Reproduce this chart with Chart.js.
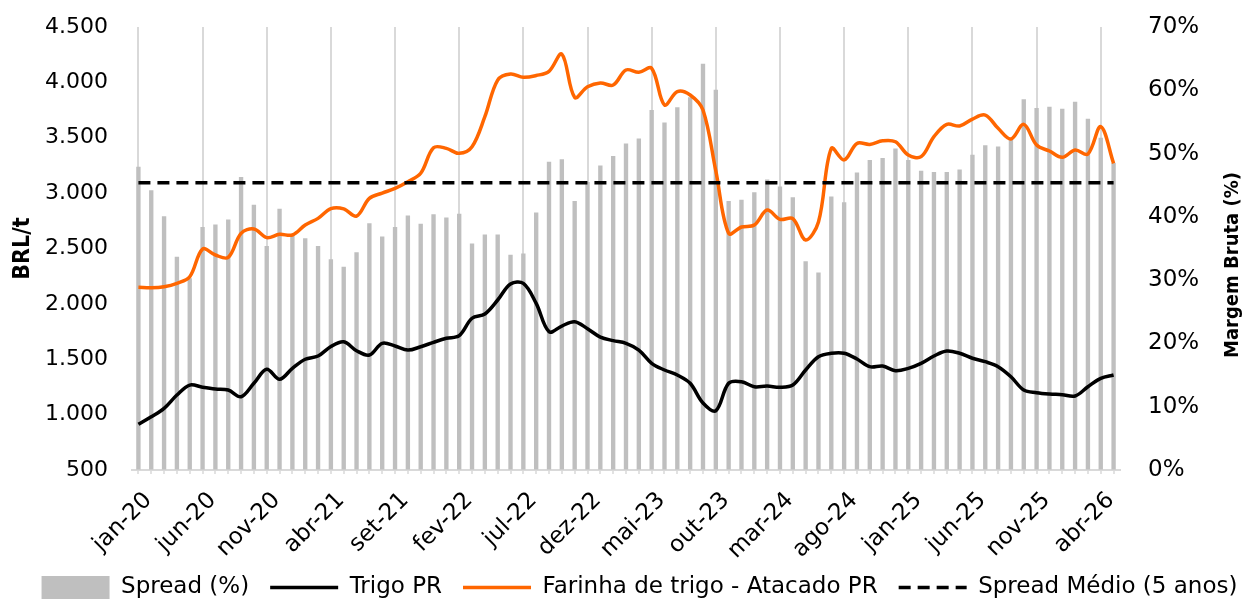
<!DOCTYPE html>
<html>
<head>
<meta charset="utf-8">
<script src="https://cdn.jsdelivr.net/npm/chart.js@4.4.1/dist/chart.umd.min.js"></script>
<style>
  html, body { margin: 0; padding: 0; background: #ffffff; overflow: hidden; }
  #wrap { width: 1247px; height: 602px; position: relative; }
</style>
</head>
<body>
<div id="wrap"><canvas id="chart" width="1247" height="602"></canvas></div>
<script>
// ---------- DATA ----------
const categories = [
  'jan-20','fev-20','mar-20','abr-20','mai-20','jun-20','jul-20','ago-20','set-20','out-20','nov-20','dez-20',
  'jan-21','fev-21','mar-21','abr-21','mai-21','jun-21','jul-21','ago-21','set-21','out-21','nov-21','dez-21',
  'jan-22','fev-22','mar-22','abr-22','mai-22','jun-22','jul-22','ago-22','set-22','out-22','nov-22','dez-22',
  'jan-23','fev-23','mar-23','abr-23','mai-23','jun-23','jul-23','ago-23','set-23','out-23','nov-23','dez-23',
  'jan-24','fev-24','mar-24','abr-24','mai-24','jun-24','jul-24','ago-24','set-24','out-24','nov-24','dez-24',
  'jan-25','fev-25','mar-25','abr-25','mai-25','jun-25','jul-25','ago-25','set-25','out-25','nov-25','dez-25',
  'jan-26','fev-26','mar-26','abr-26','mai-26'
];

// Spread (%) - right axis
const spread = [
  47.9, 44.2, 40.1, 33.7, 30.3, 38.4, 38.8, 39.6, 46.3, 41.9, 35.4, 41.3,
  37.2, 36.6, 35.4, 33.3, 32.1, 34.4, 39.0, 36.9, 38.4, 40.2, 38.9, 40.4,
  39.9, 40.5, 35.8, 37.2, 37.2, 34.0, 34.2, 40.7, 48.7, 49.1, 42.5, 45.5,
  48.1, 49.6, 51.6, 52.4, 56.9, 54.9, 57.3, 58.9, 64.2, 60.1, 42.5, 42.7,
  43.9, 45.9, 44.8, 43.1, 33.0, 31.2, 43.2, 42.3, 47.0, 49.0, 49.3, 50.8,
  49.0, 47.3, 47.1, 47.1, 47.5, 49.8, 51.3, 51.1, 52.4, 58.6, 57.2, 57.4,
  57.1, 58.2, 55.5, 52.5, 48.5
];

// Trigo PR (BRL/t) - left axis
const trigo = [
  913, 981, 1057, 1177, 1267, 1247, 1231, 1222, 1162, 1283, 1409, 1319,
  1418, 1500, 1529, 1615, 1658, 1577, 1538, 1644, 1620, 1583, 1613, 1653,
  1689, 1713, 1870, 1909, 2035, 2180, 2185, 2005, 1749, 1800, 1839, 1775,
  1700, 1668, 1644, 1583, 1463, 1403, 1358, 1283, 1105, 1035, 1283, 1297,
  1252, 1258, 1247, 1267, 1403, 1523, 1554, 1554, 1502, 1433, 1439, 1397,
  1418, 1463, 1529, 1574, 1554, 1509, 1478, 1433, 1342, 1222, 1198, 1186,
  1180, 1168, 1252, 1328, 1358
];

// Farinha de trigo - Atacado PR (BRL/t) - left axis
const farinha = [
  2150, 2146, 2155, 2186, 2245, 2495, 2441, 2420, 2637, 2676, 2598, 2628,
  2622, 2712, 2772, 2860, 2858, 2793, 2953, 3000, 3043, 3103, 3179, 3410,
  3404, 3359, 3419, 3690, 4021, 4076, 4046, 4062, 4100, 4255, 3865, 3960,
  3995, 3976, 4112, 4091, 4127, 3796, 3917, 3886, 3750, 3200, 2637, 2694,
  2712, 2847, 2763, 2770, 2577, 2740, 3404, 3300, 3449, 3440, 3473, 3464,
  3344, 3329, 3510, 3621, 3606, 3669, 3705, 3585, 3489, 3621, 3434, 3380,
  3323, 3389, 3353, 3600, 3269
];

// Spread Médio (5 anos) - constant reference level (%), right axis
const spreadMedioLevel = [45.4, 45.4];

const leftTickValues = [500, 1000, 1500, 2000, 2500, 3000, 3500, 4000, 4500];
const rightTickValues = [0, 10, 20, 30, 40, 50, 60, 70];

const seriesNames = ['Spread (%)', 'Trigo PR', 'Farinha de trigo - Atacado PR', 'Spread Médio (5 anos)'];
const leftTitle = 'BRL/t';
const rightTitle = 'Margem Bruta (%)';

// ---------- STYLE ----------
const FONT = '"DejaVu Sans", sans-serif';
const FONT_COND = '"DejaVu Sans Condensed", "DejaVu Sans", sans-serif';
const GREY_BAR = '#bfbfbf';
const GRID = '#d9d9d9';
const ORANGE = '#ff6600';
const CLEAR = 'rgba(0,0,0,0)';

function fmtThousands(v) {
  return String(v).replace(/\B(?=(\d{3})+(?!\d))/g, '.');
}

const rightTitlePlugin = {
  id: 'rightTitlePlugin',
  afterDraw(chart) {
    const ctx = chart.ctx;
    ctx.save();
    ctx.translate(1233, 265);
    ctx.rotate(-Math.PI / 2);
    ctx.font = 'bold 20px ' + FONT_COND;
    ctx.fillStyle = '#000000';
    ctx.textAlign = 'center';
    ctx.textBaseline = 'middle';
    ctx.fillText(rightTitle, 0, 0);
    ctx.restore();
  }
};

const layoutTweakPlugin = {
  id: 'layoutTweakPlugin',
  afterLayout(chart) {
    if (chart.legend) {
      chart.legend.top += 7;
      chart.legend.bottom += 7;
      chart.legend.left += 16;
      chart.legend.right += 16;
    }
    if (chart.scales.x) {
      chart.scales.x.bottom = chart.height; // do not clip rotated labels
    }
  }
};

const ctx = document.getElementById('chart').getContext('2d');
new Chart(ctx, {
  data: {
    labels: categories,
    datasets: [
      {
        type: 'bar',
        label: seriesNames[0],
        data: spread,
        yAxisID: 'yRight',
        backgroundColor: GREY_BAR,
        borderWidth: 0,
        categoryPercentage: 1.0,
        barPercentage: 0.34,
        order: 4
      },
      {
        type: 'line',
        label: seriesNames[1],
        data: trigo,
        yAxisID: 'yLeft',
        borderColor: '#000000',
        borderWidth: 3.5,
        pointRadius: 0,
        tension: 0.35,
        fill: false,
        order: 3
      },
      {
        type: 'line',
        label: seriesNames[2],
        data: farinha,
        yAxisID: 'yLeft',
        borderColor: ORANGE,
        borderWidth: 3.5,
        pointRadius: 0,
        tension: 0.35,
        fill: false,
        order: 2
      },
      {
        type: 'line',
        label: seriesNames[3],
        data: [
          { x: categories[0], y: spreadMedioLevel[0] },
          { x: categories[categories.length - 1], y: spreadMedioLevel[1] }
        ],
        yAxisID: 'yRight',
        borderColor: '#000000',
        borderWidth: 3.5,
        borderDash: [12, 7],
        borderCapStyle: 'butt',
        pointRadius: 0,
        tension: 0,
        fill: false,
        order: 1
      }
    ]
  },
  options: {
    responsive: false,
    animation: false,
    devicePixelRatio: 1,
    layout: { padding: { top: 27, left: 0, right: 0, bottom: 0 } },
    plugins: {
      tooltip: { enabled: false },
      legend: {
        position: 'bottom',
        align: 'center',
        labels: {
          font: { family: FONT, size: 23 },
          color: '#000000',
          usePointStyle: true,
          pointStyleWidth: 68,
          boxHeight: 23,
          padding: 21,
          generateLabels(chart) {
            return chart.data.datasets.map((ds, i) => {
              const isBar = ds.type === 'bar';
              return {
                text: ds.label,
                datasetIndex: i,
                pointStyle: isBar ? 'rect' : 'line',
                fillStyle: isBar ? ds.backgroundColor : CLEAR,
                strokeStyle: isBar ? ds.backgroundColor : ds.borderColor,
                lineWidth: isBar ? 0 : 3.5,
                lineDash: ds.borderDash || [],
                lineCap: 'butt',
                fontColor: '#000000',
                hidden: false
              };
            });
          }
        }
      }
    },
    scales: {
      x: {
        type: 'category',
        offset: true,
        grid: {
          display: true,
          offset: false,
          drawOnChartArea: true,
          drawTicks: true,
          tickLength: 4,
          tickColor: GRID,
          tickWidth: 1.5,
          lineWidth: 2,
          color: (c) => (c.index % 5 === 0 ? GRID : CLEAR)
        },
        border: { display: true, color: GRID, width: 2 },
        ticks: {
          autoSkip: false,
          maxRotation: 45,
          minRotation: 45,
          padding: 13,
          labelOffset: 10,
          color: '#000000',
          font: { family: FONT, size: 23 },
          callback: function (value, index) {
            return index % 5 === 0 ? categories[index] : '';
          }
        },
        afterFit(scale) { scale.height = 78; }
      },
      yLeft: {
        type: 'linear',
        position: 'left',
        min: 500,
        max: 4500,
        afterBuildTicks(scale) { scale.ticks = leftTickValues.map(v => ({ value: v })); },
        grid: { display: true, drawOnChartArea: false, drawTicks: true, tickLength: 21, color: CLEAR, tickColor: CLEAR },
        border: { display: false },
        ticks: {
          padding: 3,
          color: '#000000',
          font: { family: FONT, size: 22 },
          callback: (v) => fmtThousands(v)
        },
        title: {
          display: true,
          text: leftTitle,
          color: '#000000',
          font: { family: FONT_COND, size: 23, weight: 'bold' },
          padding: { top: 9, bottom: 0 }
        },
        afterFit(scale) { scale.width = 132; }
      },
      yRight: {
        type: 'linear',
        position: 'right',
        min: 0,
        max: 70,
        afterBuildTicks(scale) { scale.ticks = rightTickValues.map(v => ({ value: v })); },
        grid: { display: true, drawOnChartArea: false, drawTicks: true, tickLength: 25, color: CLEAR, tickColor: CLEAR },
        border: { display: false },
        ticks: {
          padding: 3,
          color: '#000000',
          font: { family: FONT, size: 23 },
          callback: (v) => v + '%'
        },
        afterFit(scale) { scale.width = 127; }
      }
    }
  },
  plugins: [rightTitlePlugin, layoutTweakPlugin]
});
</script>
</body>
</html>
